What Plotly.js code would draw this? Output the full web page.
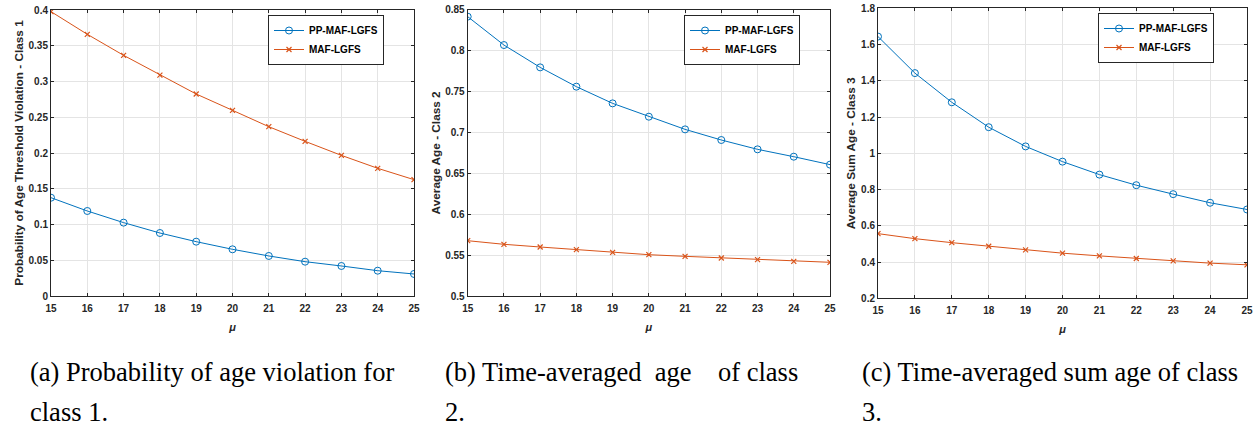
<!DOCTYPE html>
<html>
<head>
<meta charset="utf-8">
<script src="https://cdn.plot.ly/plotly-3.0.1.min.js"></script>
<style>
  html, body { margin: 0; padding: 0; background: #fff; }
  #chart { width: 1256px; height: 434px; }
</style>
</head>
<body>
<div id="chart"></div>
<script>
// ---- data ----
const mu = [15, 16, 17, 18, 19, 20, 21, 22, 23, 24, 25];

const class1_pp  = [0.1375, 0.1189, 0.1026, 0.0881, 0.0760, 0.0653, 0.0560, 0.0480, 0.0420, 0.0354, 0.0308];
const class1_maf = [0.3977, 0.3660, 0.3366, 0.3090, 0.2825, 0.2597, 0.2368, 0.2163, 0.1967, 0.1786, 0.1627];

const class2_pp  = [0.8415, 0.8068, 0.7795, 0.7559, 0.7355, 0.7192, 0.7037, 0.6907, 0.6793, 0.6703, 0.6606];
const class2_maf = [0.5676, 0.5632, 0.5599, 0.5566, 0.5534, 0.5505, 0.5485, 0.5465, 0.5444, 0.5424, 0.5412];

const class3_pp  = [1.644, 1.4425, 1.2814, 1.144, 1.038, 0.954, 0.8825, 0.824, 0.7746, 0.727, 0.690];
const class3_maf = [0.5568, 0.529, 0.507, 0.487, 0.467, 0.449, 0.434, 0.4196, 0.4068, 0.394, 0.3848];

const seriesNames = ["PP-MAF-LGFS", "MAF-LGFS"];

const xTickVals = [15, 16, 17, 18, 19, 20, 21, 22, 23, 24, 25];
const xTickText = ["15", "16", "17", "18", "19", "20", "21", "22", "23", "24", "25"];

const y1TickVals = [0, 0.05, 0.1, 0.15, 0.2, 0.25, 0.3, 0.35, 0.4];
const y1TickText = ["0", "0.05", "0.1", "0.15", "0.2", "0.25", "0.3", "0.35", "0.4"];
const y2TickVals = [0.5, 0.55, 0.6, 0.65, 0.7, 0.75, 0.8, 0.85];
const y2TickText = ["0.5", "0.55", "0.6", "0.65", "0.7", "0.75", "0.8", "0.85"];
const y3TickVals = [0.2, 0.4, 0.6, 0.8, 1, 1.2, 1.4, 1.6, 1.8];
const y3TickText = ["0.2", "0.4", "0.6", "0.8", "1", "1.2", "1.4", "1.6", "1.8"];

const yTitles = ["Probability of Age Threshold Violation - Class 1", "Average Age - Class 2", "Average Sum Age - Class 3"];
const xTitle = "\u03bc";
const captions = [
  ["(a) Probability of age violation for", "class 1."],
  ["(b) Time-averaged\u00a0 age \u00a0\u00a0\u00a0of class", "2."],
  ["(c) Time-averaged sum age of class", "3."]
];

// ---- style ----
const W = 1256, H = 434;
const BLUE = "#0072BD", ORANGE = "#D95319";
const AX = "#262626", GRID = "#e4e4e4";
const SANS = "'Liberation Sans', Arial, sans-serif";
const SERIF = "'Liberation Serif', 'Times New Roman', serif";

const px = v => v / W;
const py = v => 1 - v / H;

const panels = [
  {pp: class1_pp, maf: class1_maf, xd: [51, 414], yd: [10, 296], yr: [0, 0.4], tv: y1TickVals, tt: y1TickText, leg: [268, 15], cap: 28},
  {pp: class2_pp, maf: class2_maf, xd: [467.7, 830], yd: [9.7, 296], yr: [0.5, 0.85], tv: y2TickVals, tt: y2TickText, leg: [684, 15], cap: 443},
  {pp: class3_pp, maf: class3_maf, xd: [878, 1247], yd: [8.3, 298.3], yr: [0.2, 1.8], tv: y3TickVals, tt: y3TickText, leg: [1098, 13], cap: 860}
];

const data = [];
const layout = {
  width: W, height: H,
  margin: {l: 0, r: 0, t: 0, b: 0},
  paper_bgcolor: "#fff", plot_bgcolor: "#fff",
  font: {family: SANS, color: AX},
  annotations: []
};

panels.forEach((p, i) => {
  const n = i === 0 ? "" : String(i + 1);
  const legName = "legend" + n;
  data.push({
    x: mu, y: p.pp, name: seriesNames[0], type: "scatter", mode: "lines+markers",
    xaxis: "x" + n, yaxis: "y" + n, legend: legName,
    line: {color: BLUE, width: 1},
    marker: {symbol: "circle-open", size: 7, color: BLUE, line: {width: 1, color: BLUE}}
  });
  data.push({
    x: mu, y: p.maf, name: seriesNames[1], type: "scatter", mode: "lines+markers",
    xaxis: "x" + n, yaxis: "y" + n, legend: legName,
    line: {color: ORANGE, width: 1},
    marker: {symbol: "x-thin-open", size: 5, color: ORANGE, line: {width: 1.2, color: ORANGE}}
  });

  layout["xaxis" + n] = {
    domain: [px(p.xd[0]), px(p.xd[1])],
    anchor: "y" + n,
    range: [15, 25],
    tickmode: "array", tickvals: xTickVals, ticktext: xTickText,
    ticks: "inside", ticklen: 3, tickcolor: AX, tickwidth: 1,
    showline: true, linecolor: AX, linewidth: 1, mirror: "ticks",
    showgrid: true, gridcolor: GRID, gridwidth: 1, zeroline: false,
    tickfont: {family: SANS, size: 10, weight: "bold", color: AX},
    ticklabelstandoff: 3,
    title: {text: xTitle, font: {family: SANS, size: 11, weight: "bold", style: "italic", color: AX}, standoff: 10},
    automargin: false, fixedrange: true
  };
  layout["yaxis" + n] = {
    domain: [py(p.yd[1]), py(p.yd[0])],
    anchor: "x" + n,
    range: p.yr,
    tickmode: "array", tickvals: p.tv, ticktext: p.tt,
    ticks: "inside", ticklen: 3, tickcolor: AX, tickwidth: 1,
    showline: true, linecolor: AX, linewidth: 1, mirror: "ticks",
    showgrid: true, gridcolor: GRID, gridwidth: 1, zeroline: false,
    tickfont: {family: SANS, size: 10, weight: "bold", color: AX},
    title: {text: yTitles[i], font: {family: SANS, size: 11.8, weight: "bold", color: AX}, standoff: 2},
    automargin: false, fixedrange: true
  };
  layout[legName] = {
    x: px(p.leg[0]), y: py(p.leg[1]), xanchor: "left", yanchor: "top",
    xref: "paper", yref: "paper",
    bgcolor: "#fff", bordercolor: AX, borderwidth: 1,
    font: {family: SANS, size: 10, weight: "bold", color: "#000"},
    itemwidth: 30, tracegroupgap: 0
  };

  captions[i].forEach((line, k) => {
    layout.annotations.push({
      text: line, xref: "paper", yref: "paper",
      x: px(p.cap), y: py(k === 0 ? 372 : 412), xanchor: "left", yanchor: "middle",
      showarrow: false, font: {family: SERIF, size: 26.5, color: "#000"}
    });
  });
});

Plotly.newPlot("chart", data, layout, {displayModeBar: false, staticPlot: true});
</script>
</body>
</html>
